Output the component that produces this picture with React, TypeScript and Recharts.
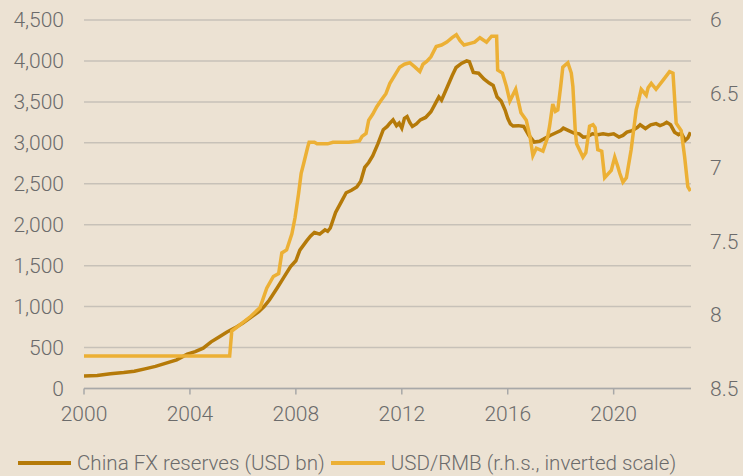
import { LineChart, Line, XAxis, YAxis, CartesianGrid, Legend } from "recharts";

// China FX reserves, USD bn (year, value)
const reserves: [number, number][] = [
  [2000.0, 153], [2000.5, 160], [2001.0, 180], [2001.5, 195], [2001.9, 210], [2002.3, 240],
  [2002.7, 270], [2003.1, 310], [2003.5, 350], [2003.9, 420], [2004.2, 450], [2004.5, 492],
  [2004.8, 570], [2005.1, 630], [2005.4, 690], [2005.7, 740], [2006.0, 800], [2006.3, 870],
  [2006.6, 940], [2006.8, 1000], [2007.0, 1080], [2007.3, 1230], [2007.55, 1360], [2007.8, 1490],
  [2008.0, 1560], [2008.15, 1690], [2008.4, 1800], [2008.55, 1860], [2008.7, 1905], [2008.9, 1885],
  [2009.1, 1938], [2009.2, 1920], [2009.3, 1960], [2009.5, 2150], [2009.7, 2270], [2009.9, 2390],
  [2010.1, 2420], [2010.3, 2460], [2010.45, 2530], [2010.6, 2700], [2010.75, 2760], [2010.9, 2840],
  [2011.1, 2990], [2011.3, 3160], [2011.45, 3200], [2011.55, 3240], [2011.67, 3280], [2011.8, 3210],
  [2011.9, 3240], [2012.0, 3180], [2012.1, 3300], [2012.2, 3320], [2012.3, 3250], [2012.4, 3200],
  [2012.55, 3230], [2012.7, 3280], [2012.9, 3310], [2013.1, 3380], [2013.3, 3500], [2013.4, 3560],
  [2013.5, 3520], [2013.7, 3670], [2013.9, 3820], [2014.05, 3920], [2014.25, 3970], [2014.45, 4000],
  [2014.55, 3990], [2014.7, 3860], [2014.9, 3850], [2015.1, 3780], [2015.3, 3730], [2015.45, 3700],
  [2015.6, 3560], [2015.75, 3510], [2015.9, 3400], [2016.0, 3300], [2016.1, 3230], [2016.2, 3205],
  [2016.4, 3210], [2016.6, 3200], [2016.8, 3090], [2017.0, 3010], [2017.2, 3020], [2017.35, 3045],
  [2017.6, 3090], [2017.8, 3120], [2018.0, 3150], [2018.1, 3180], [2018.3, 3150], [2018.5, 3120],
  [2018.7, 3110], [2018.85, 3070], [2019.0, 3075], [2019.2, 3110], [2019.4, 3100], [2019.6, 3110],
  [2019.8, 3100], [2020.0, 3110], [2020.2, 3070], [2020.35, 3090], [2020.5, 3130], [2020.7, 3150],
  [2020.9, 3190], [2021.0, 3220], [2021.2, 3175], [2021.4, 3220], [2021.6, 3235], [2021.75, 3210],
  [2021.9, 3230], [2022.0, 3250], [2022.15, 3220], [2022.3, 3130], [2022.45, 3100], [2022.55, 3120],
  [2022.7, 3030], [2022.8, 3060], [2022.9, 3130],
];

// USD/RMB (year, rate), plotted on an inverted right axis
const usdRmb: [number, number][] = [
  [2000.0, 8.28], [2005.5, 8.28], [2005.58, 8.11], [2005.8, 8.08], [2006.3, 8.01], [2006.65, 7.95],
  [2006.9, 7.82], [2007.15, 7.74], [2007.35, 7.72], [2007.47, 7.58], [2007.65, 7.56], [2007.85, 7.45],
  [2007.97, 7.34], [2008.1, 7.18], [2008.2, 7.04], [2008.3, 6.97], [2008.45, 6.86], [2008.5, 6.83],
  [2008.7, 6.83], [2008.8, 6.84], [2009.2, 6.84], [2009.4, 6.83], [2010.0, 6.83], [2010.4, 6.82],
  [2010.5, 6.79], [2010.65, 6.77], [2010.75, 6.68], [2010.9, 6.64], [2011.05, 6.59], [2011.2, 6.55],
  [2011.4, 6.5], [2011.55, 6.43], [2011.75, 6.37], [2011.92, 6.32], [2012.1, 6.3], [2012.3, 6.29],
  [2012.5, 6.32], [2012.68, 6.35], [2012.8, 6.3], [2012.95, 6.28], [2013.1, 6.25], [2013.3, 6.18],
  [2013.5, 6.17], [2013.7, 6.15], [2013.9, 6.12], [2014.06, 6.1], [2014.2, 6.14], [2014.35, 6.17],
  [2014.55, 6.16], [2014.75, 6.15], [2014.95, 6.12], [2015.2, 6.15], [2015.39, 6.11], [2015.58, 6.11],
  [2015.62, 6.34], [2015.8, 6.36], [2015.95, 6.45], [2016.08, 6.55], [2016.3, 6.47], [2016.4, 6.55],
  [2016.5, 6.63], [2016.7, 6.68], [2016.85, 6.8], [2016.95, 6.92], [2017.08, 6.87], [2017.33, 6.89],
  [2017.5, 6.8], [2017.58, 6.72], [2017.7, 6.57], [2017.8, 6.62], [2017.89, 6.61], [2018.0, 6.45],
  [2018.08, 6.32], [2018.27, 6.29], [2018.4, 6.36], [2018.46, 6.45], [2018.55, 6.75], [2018.6, 6.84],
  [2018.84, 6.93], [2018.95, 6.9], [2019.09, 6.72], [2019.22, 6.71], [2019.3, 6.73], [2019.4, 6.88],
  [2019.55, 6.89], [2019.66, 7.07], [2019.91, 7.02], [2020.04, 6.93], [2020.15, 6.99], [2020.23, 7.04],
  [2020.35, 7.1], [2020.48, 7.07], [2020.66, 6.88], [2020.85, 6.61], [2020.95, 6.54], [2021.04, 6.47],
  [2021.23, 6.51], [2021.3, 6.46], [2021.42, 6.43], [2021.6, 6.47], [2021.86, 6.41], [2022.11, 6.35],
  [2022.24, 6.36], [2022.36, 6.7], [2022.55, 6.75], [2022.68, 6.93], [2022.8, 7.13], [2022.9, 7.16],
];

const yearTicks = [2000, 2004, 2008, 2012, 2016, 2020];
const leftTicks = [0, 500, 1000, 1500, 2000, 2500, 3000, 3500, 4000, 4500];
const rightTicks = [6, 6.5, 7, 7.5, 8, 8.5];

const reserveData = reserves.map(([x, v]) => ({ x, v }));
const rmbData = usdRmb.map(([x, v]) => ({ x, v }));

const BG = "#ece2d3";
const DARK = "#b57a09";
const GOLD = "#ecb035";
const TEXT = "#6b6b6b";
const FONT = "Roboto, 'Liberation Sans', sans-serif";

const tickStyle = { fill: TEXT, fontSize: 21, fontFamily: FONT, fontWeight: 300 };

function LegendRow() {
  return (
    <div
      style={{
        display: "flex",
        alignItems: "center",
        height: 20,
        lineHeight: "20px",
        paddingLeft: 18,
        fontFamily: FONT,
        fontWeight: 300,
        fontSize: 20.6,
        color: TEXT,
        whiteSpace: "nowrap",
      }}
    >
      <span style={{ width: 53, height: 3.5, background: DARK, marginRight: 6 }} />
      <span>China FX reserves (USD bn)</span>
      <span style={{ width: 54, height: 3.5, background: GOLD, margin: "0 6px" }} />
      <span>USD/RMB (r.h.s., inverted scale)</span>
    </div>
  );
}

export default function App() {
  return (
    <div style={{ position: "fixed", left: 0, top: 0, width: 743, height: 476, background: BG }}>
      <LineChart width={743} height={476} margin={{ top: 20, right: 0, bottom: 0, left: 0 }}>
        <CartesianGrid yAxisId="l" horizontal vertical={false} stroke="#c7c1b8" strokeWidth={1.5} />
        <XAxis
          dataKey="x"
          type="number"
          domain={[2000, 2022.92]}
          ticks={yearTicks}
          allowDataOverflow
          height={67.5}
          stroke="#a8a8a8"
          strokeWidth={1.5}
          tickSize={6}
          tickMargin={12}
          tick={tickStyle}
        />
        <YAxis
          yAxisId="l"
          domain={[0, 4500]}
          ticks={leftTicks}
          width={84}
          axisLine={false}
          tickLine={false}
          tickSize={0}
          tickMargin={20}
          tick={tickStyle}
          tickFormatter={(v: number) => v.toLocaleString("en-US")}
        />
        <YAxis
          yAxisId="r"
          orientation="right"
          reversed
          domain={[6, 8.5]}
          ticks={rightTicks}
          width={52}
          axisLine={false}
          tickLine={false}
          tickSize={0}
          tickMargin={19}
          tick={tickStyle}
        />
        <Legend
          verticalAlign="bottom"
          align="left"
          wrapperStyle={{ bottom: 3 }}
          content={() => <LegendRow />}
        />
        <Line
          yAxisId="l"
          data={reserveData}
          dataKey="v"
          stroke={DARK}
          strokeWidth={3.5}
          dot={false}
          isAnimationActive={false}
        />
        <Line
          yAxisId="r"
          data={rmbData}
          dataKey="v"
          stroke={GOLD}
          strokeWidth={3.5}
          dot={false}
          isAnimationActive={false}
        />
      </LineChart>
    </div>
  );
}
